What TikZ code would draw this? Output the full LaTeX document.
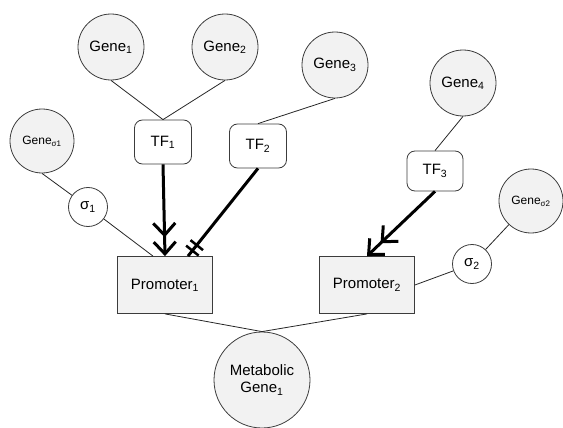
\documentclass[tikz,border=0pt]{standalone}
\usepackage{fontspec}
\setmainfont{Liberation Sans}
\usepackage{tikz}
\usetikzlibrary{arrows.meta,decorations.markings}

\definecolor{shade}{HTML}{F2F2F2}
\definecolor{edge}{HTML}{3C3C3C}

\tikzset{
    gene/.style={circle, draw=edge, line width=0.8pt, fill=shade, inner sep=0pt, minimum size=66pt, font=\fontsize{15}{17}\selectfont},
    sgene/.style={gene, minimum size=64pt, font=\fontsize{12}{14}\selectfont},
    sig/.style={circle, draw=edge, line width=0.8pt, fill=white, inner sep=0pt, minimum size=39pt, font=\fontsize{15}{17}\selectfont},
    tf/.style={rectangle, rounded corners=8pt, draw=edge, line width=0.8pt, fill=white, minimum width=57pt, minimum height=44pt, font=\fontsize{15}{17}\selectfont},
    promoter/.style={rectangle, draw=edge, line width=0.8pt, fill=shade, minimum width=95pt, minimum height=57pt, font=\fontsize{15}{17}\selectfont},
    link/.style={draw=black!85, line width=0.8pt},
    activ/.style={line width=3pt, -{Straight Barb[length=12pt,width=22pt,line width=3pt,sep=3pt] Straight Barb[length=12pt,width=22pt,line width=3pt]}},
    repress/.style={line width=3pt, postaction={decorate}, decoration={markings,
        mark=at position -14pt with {\draw[line width=2.5pt] (0,-8pt) -- (0,8pt);},
        mark=at position -7pt with {\draw[line width=2.5pt] (0,-8pt) -- (0,8pt);}}}
}

\begin{document}
\begin{tikzpicture}[x=1pt, y=-1pt]
    \useasboundingbox (0,0) rectangle (563,428);

    % Genes
    \foreach \name/\x/\y/\num in {g1/111/47/1, g2/225/47/2, g3/335/65/3, g4/463/83/4} {
        \node [gene] (\name) at (\x,\y) {Gene\textsubscript{\num}};
    }
    \node [sgene] (gs1) at (42,141) {Gene\textsubscript{σ1}};
    \node [sgene] (gs2) at (531,201) {Gene\textsubscript{σ2}};

    % Transcription factors and sigma factors
    \node [tf] (tf1) at (163,142) {TF\textsubscript{1}};
    \node [tf] (tf2) at (258,146) {TF\textsubscript{2}};
    \node [tf, minimum height=40pt, minimum width=56pt] (tf3) at (435,171) {TF\textsubscript{3}};
    \node [sig] (s1) at (88,207) {σ\textsubscript{1}};
    \node [sig] (s2) at (472,264) {σ\textsubscript{2}};

    % Promoters and target
    \node [promoter] (p1) at (165,285) {Promoter\textsubscript{1}};
    \node [promoter] (p2) at (367,285) {Promoter\textsubscript{2}};
    \node [gene, minimum size=96pt, align=center] (mg) at (262,380) {Metabolic\\Gene\textsubscript{1}};

    \coordinate (p1in) at ([xshift=-12pt]p1.north);
    \coordinate (p1rep) at ([xshift=23pt]p1.north);

    % Thin links
    \draw [link] (g1.south) -- (tf1.north);
    \draw [link] (g2.south) -- (tf1.north);
    \draw [link] (g3.south) -- (tf2.north);
    \draw [link] (g4.south) -- (tf3.north);
    \draw [link] (gs1.south) -- (s1);
    \draw [link] (s1) -- (p1in);
    \draw [link] (gs2) -- (s2);
    \draw [link] (s2) -- (p2.east);
    \draw [link] (p1.south) -- (mg.north);
    \draw [link] (p2.south) -- (mg.north);

    % Regulation
    \draw [activ] (tf1.south) -- (p1.north);
    \draw [repress] (tf2.south) -- (p1rep);
    \draw [activ] (tf3.south) -- (p2.north);
\end{tikzpicture}
\end{document}
